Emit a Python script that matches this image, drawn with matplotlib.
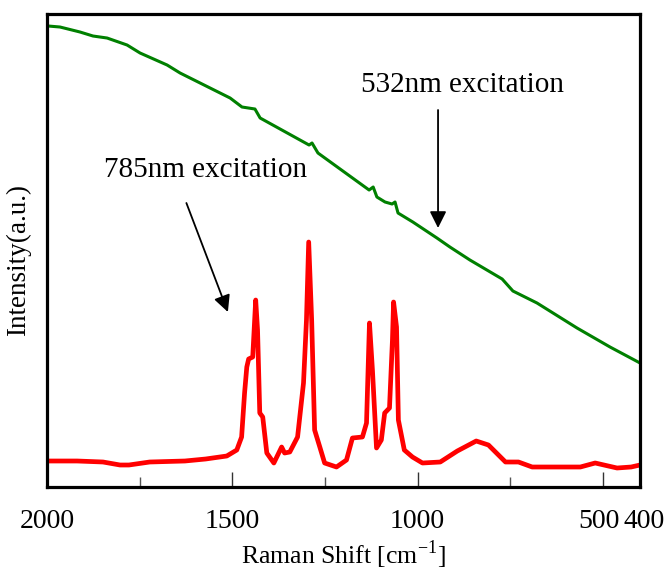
import matplotlib
matplotlib.use("Agg")
import matplotlib.pyplot as plt
import matplotlib.transforms as mtransforms
import numpy as np

# 532nm excitation: fluorescence background
wn_532 = [1997, 1965, 1911, 1876, 1838, 1784, 1749, 1676, 1641, 1560, 1506, 1474,
          1439, 1425, 1293, 1285, 1269, 1131, 1120, 1110, 1088, 1069, 1061, 1053,
          1013, 948, 913, 859, 772, 743, 678, 570, 481, 400]
int_532 = [461, 460, 455, 451, 449, 442, 434, 422, 414, 399, 389, 380,
           378, 369, 342, 344, 334, 297, 300, 290, 285, 283, 285, 274,
           265, 249, 240, 227, 208, 196, 184, 159, 140, 124]

# 785nm excitation: Raman peaks
wn_785 = [2000, 1919, 1849, 1803, 1779, 1723, 1628, 1572, 1534, 1515, 1488, 1475,
          1467, 1461, 1456, 1445, 1437, 1432, 1426, 1418, 1407, 1388, 1367, 1359,
          1345, 1324, 1308, 1300, 1294, 1286, 1278, 1264, 1251, 1219, 1192, 1176,
          1149, 1138, 1130, 1122, 1111, 1098, 1089, 1076, 1068, 1065, 1057, 1052,
          1036, 1014, 987, 939, 893, 842, 809, 763, 728, 691, 561, 521, 462, 424, 400]
int_785 = [26, 26, 25, 22, 22, 25, 26, 28, 30, 31, 37, 50,
           94, 120, 128, 130, 187, 157, 74, 70, 34, 24, 40, 34,
           35, 50, 104, 167, 245, 167, 57, 40, 24, 20, 27, 49,
           50, 64, 164, 117, 39, 47, 74, 79, 147, 185, 160, 67,
           37, 30, 24, 25, 36, 46, 42, 25, 25, 20, 20, 24, 19, 20, 22]

xticks = [2000, 1500, 1000, 500, 400]
xticklabels = ["2000", "1500", "1000", "500", "400"]
minor_ticks = [1750, 1250, 750]

plt.rcParams['font.family'] = ['Liberation Serif', 'DejaVu Serif']

fig = plt.figure(figsize=(6.69, 5.72), dpi=100)
ax = fig.add_axes([0.0703, 0.1486, 0.8864, 0.8269])

ax.plot(wn_532, int_532, color='#008000', lw=2.2)
ax.plot(wn_785, int_785, color='#ff0000', lw=3.4)

ax.set_xlim(2000, 400)
ax.set_ylim(0, 473)
ax.set_yticks([])
ax.set_xticks(xticks)
ax.set_xticklabels(xticklabels, fontsize=20)
ax.set_xticks(minor_ticks, minor=True)
ax.tick_params(axis='x', which='major', direction='in', length=11, width=1, color='#333333', pad=16)
ax.tick_params(axis='x', which='minor', direction='in', length=7, width=1, color='#555555')
for s in ax.spines.values():
    s.set_linewidth(2.3)

# nudge the two crowded labels apart a little
labs = ax.get_xticklabels()
labs[3].set_transform(labs[3].get_transform() + mtransforms.ScaledTranslation(-4/100, 0, fig.dpi_scale_trans))
labs[4].set_transform(labs[4].get_transform() + mtransforms.ScaledTranslation(4/100, 0, fig.dpi_scale_trans))

ax.set_xlabel("Raman Shift [cm$^{\\mathregular{-1}}$]", fontsize=18.5, va='center')
ax.xaxis.set_label_coords(0.5, -0.144)
ax.set_ylabel("Intensity(a.u.)", fontsize=19.5, va='center')
ax.yaxis.set_label_coords(-0.049, 0.48)

arrow = dict(arrowstyle='-|>', color='black', lw=1.3, mutation_scale=25, shrinkA=0, shrinkB=0)
ax.text(878, 402, "532nm excitation", fontsize=21, ha='center', va='center')
ax.annotate("", xy=(945, 259), xytext=(945, 377), arrowprops=arrow)
ax.text(1571, 317, "785nm excitation", fontsize=21, ha='center', va='center')
ax.annotate("", xy=(1512, 175), xytext=(1624, 284), arrowprops=arrow)

fig.savefig("out.png", dpi=100)
